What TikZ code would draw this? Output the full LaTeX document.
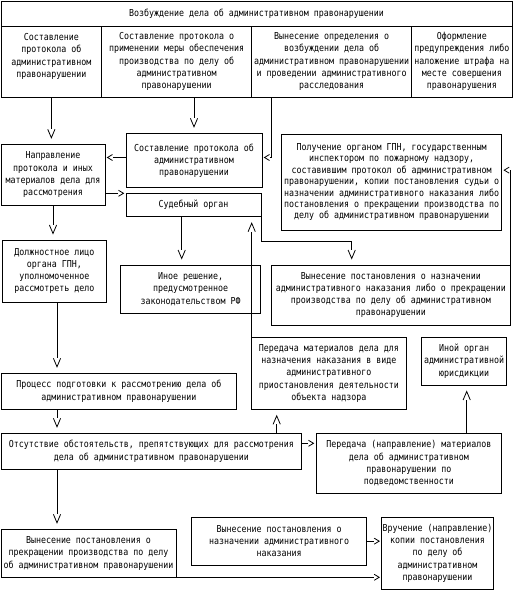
\documentclass[tikz,border=0pt]{standalone}
\usepackage{fontspec}
\setmainfont{DejaVu Sans Mono}[FakeStretch=0.865]
\usetikzlibrary{arrows.meta}

\pgfdeclarearrow{
  name = VTip,
  parameters = {},
  setup code = {
    \pgfarrowssettipend{0pt}
    \pgfarrowssetlineend{-15pt}
    \pgfarrowssetbackend{-15pt}
    \pgfarrowssetvisualbackend{-15pt}
  },
  drawing code = {
    \pgfsetdash{}{0pt}
    \pgfsetmiterjoin
    \pgfpathmoveto{\pgfqpoint{-15pt}{3.6pt}}
    \pgfpathlineto{\pgfqpoint{-6.5pt}{0pt}}
    \pgfpathlineto{\pgfqpoint{-15pt}{-3.6pt}}
    \pgfusepathqstroke
  }
}
\pgfdeclarearrow{
  name = HTip,
  parameters = {},
  setup code = {
    \pgfarrowssettipend{0pt}
    \pgfarrowssetlineend{-8pt}
    \pgfarrowssetbackend{-8pt}
    \pgfarrowssetvisualbackend{-8pt}
  },
  drawing code = {
    \pgfsetdash{}{0pt}
    \pgfsetmiterjoin
    \pgfpathmoveto{\pgfqpoint{-7.5pt}{3pt}}
    \pgfpathlineto{\pgfqpoint{-2.5pt}{0pt}}
    \pgfpathlineto{\pgfqpoint{-7.5pt}{-3pt}}
    \pgfusepathqstroke
  }
}

\tikzset{
  box/.style={draw, line width=0.8pt, inner sep=0pt, outer sep=0pt, align=center,
    font=\fontsize{9.6}{12.2}\selectfont},
  tightbox/.style={box, font=\fontsize{9.6}{11.4}\selectfont},
  varr/.style={line width=0.8pt, arrows=-VTip},
  harr/.style={line width=0.8pt, arrows=-HTip},
}

\begin{document}
\begin{tikzpicture}[x=1pt, y=-1pt]
\useasboundingbox (0,0) rectangle (515,592);

% top table
\node[box, minimum width=511pt, minimum height=25pt] (title) at (256.5,13.5)
  {Возбуждение дела об административном правонарушении};
\node[box, minimum width=100.7pt, minimum height=71pt] (col1) at (51.35,61.5)
  {Составление\\протокола об\\административном\\правонарушении\\\mbox{}};
\node[box, minimum width=150pt, minimum height=71pt] (col2) at (176.7,61.5)
  {Составление протокола о\\применении меры обеспечения\\производства по делу об\\административном\\правонарушении};
\node[box, minimum width=160pt, minimum height=71pt] (col3) at (331.7,61.5)
  {Вынесение определения о\\возбуждении дела об\\административном правонарушении\\и проведении административного\\расследования};
\node[box, minimum width=100.3pt, minimum height=71pt] (col4) at (461.85,61.5)
  {Оформление\\предупреждения либо\\наложение штрафа на\\месте совершения\\правонарушения};

% boxes
\node[box, minimum width=136pt, minimum height=54.4pt] (A) at (194,160.5)
  {Составление протокола об\\административном\\правонарушении};
\node[box, minimum width=104pt, minimum height=60.7pt] (B) at (53,174.65)
  {Направление\\протокола и иных\\материалов дела для\\рассмотрения};
\node[box, minimum width=135pt, minimum height=23.4pt] (C) at (193.5,205)
  {Судебный орган};
\node[tightbox, minimum width=220pt, minimum height=95.7pt] (D) at (391.7,182.15)
  {Получение органом ГПН, государственным\\инспектором по пожарному надзору,\\составившим протокол об административном\\правонарушении, копии постановления судьи о\\назначении административного наказания либо\\постановления о прекращении производства по\\делу об административном правонарушении};
\node[box, minimum width=103.3pt, minimum height=62.3pt] (E) at (54.35,271.15)
  {Должностное лицо\\органа ГПН,\\уполномоченное\\рассмотреть дело};
\node[box, minimum width=140pt, minimum height=48.3pt] (IR) at (190.7,289.15)
  {Иное решение,\\предусмотренное\\законодательством РФ};
\node[box, minimum width=238.3pt, minimum height=60pt] (I) at (390.85,295)
  {Вынесение постановления о назначении\\административного наказания либо о прекращении\\производства по делу об административном\\правонарушении};
\node[box, minimum width=154.3pt, minimum height=72pt] (H) at (328.85,373.3)
  {Передача материалов дела для\\назначения наказания в виде\\административного\\приостановления деятельности\\объекта надзора};
\node[box, minimum width=85pt, minimum height=47.7pt] (J) at (464.2,361.15)
  {Иной орган\\административной\\юрисдикции};
\node[box, minimum width=235.7pt, minimum height=36pt] (F) at (118.85,391.3)
  {Процесс подготовки к рассмотрению дела об\\административном правонарушении};
\node[box, minimum width=300.7pt, minimum height=36pt] (G) at (151.35,451.3)
  {Отсутствие обстоятельств, препятствующих для рассмотрения\\дела об административном правонарушении};
\node[box, minimum width=185.7pt, minimum height=60pt] (K) at (408.85,463.3)
  {Передача (направление) материалов\\дела об административном\\правонарушении по\\подведомственности};
\node[box, minimum width=175pt, minimum height=48pt] (L) at (88.5,553.3)
  {Вынесение постановления о\\прекращении производства по делу\\об административном правонарушении};
\node[box, minimum width=175pt, minimum height=47.7pt] (M) at (279.2,541.15)
  {Вынесение постановления о\\назначении административного\\наказания};
\node[box, minimum width=111.6pt, minimum height=72pt] (N) at (437.5,553.3)
  {Вручение (направление)\\копии постановления\\по делу об\\административном\\правонарушении};

% helper coordinates
\coordinate (x57) at (57,0);
\coordinate (xr) at (181.7,0);
\coordinate (cI) at (351.7,241.7);
\coordinate (xg) at (276.7,0);
\coordinate (xk) at (466.7,0);

% connectors
\draw[varr] (col1.south) -- (col1.south |- B.north);
\draw[varr] (col2.south -| A.north) -- (A.north);
\draw[harr] ([xshift=20pt]col3.south west) |- ([yshift=3pt]A.east);
\draw[harr] ([yshift=3pt]A.west) -- ([yshift=3pt]A.west -| B.east);
\draw[harr] (C.north west -| B.east) -- (C.north west);
\draw[varr] (B.south) -- (B.south |- E.north);
\draw[varr] (C.south -| xr) -- (IR.north -| xr);
\draw[varr] (C.south east) |- (cI) -- (cI |- I.north);
\draw[varr] (H.north west) -- (H.north west |- C.south);
\draw[harr] (I.north east) |- ([yshift=12pt]D.east);
\draw[varr] (E.south -| x57) -- (F.north -| x57);
\draw[varr] (F.south -| x57) -- (G.north -| x57);
\draw[varr] (G.south -| x57) -- (L.north -| x57);
\draw[varr] (G.north -| xg) -- (H.south -| xg);
\draw[harr] ([yshift=8pt]G.east) -- ([yshift=8pt]G.east -| K.west);
\draw[varr] (K.north -| xk) -- (J.south -| xk);
\draw[harr] (M.east) -- (M.east -| N.west);
\draw[harr] (L.south east) -- (L.south east -| N.west);
\end{tikzpicture}
\end{document}
